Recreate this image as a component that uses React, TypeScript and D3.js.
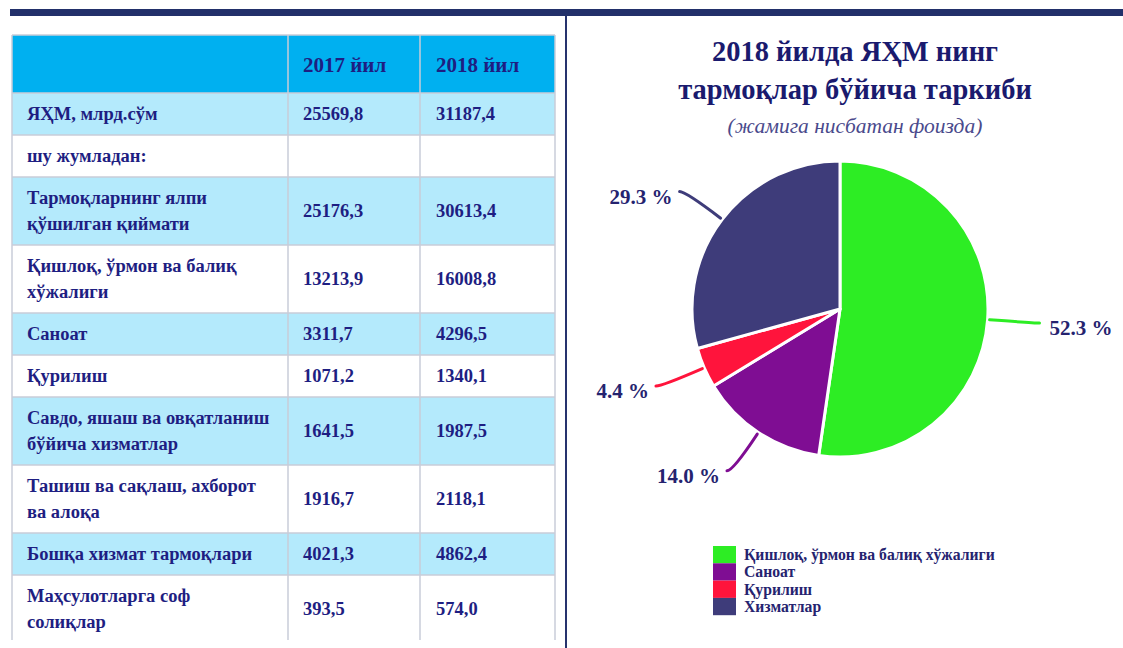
import React from "react";
import * as d3 from "d3";

const headers = ["", "2017 йил", "2018 йил"];
const rowLabels: string[][] = [
  ["ЯҲМ, млрд.сўм"],
  ["шу жумладан:"],
  ["Тармоқларнинг ялпи", "қўшилган қиймати"],
  ["Қишлоқ, ўрмон ва балиқ", "хўжалиги"],
  ["Саноат"],
  ["Қурилиш"],
  ["Савдо, яшаш ва овқатланиш", "бўйича хизматлар"],
  ["Ташиш ва сақлаш, ахборот", "ва алоқа"],
  ["Бошқа хизмат тармоқлари"],
  ["Маҳсулотларга соф", "солиқлар"],
];
const values2017: (number | null)[] = [25569.8, null, 25176.3, 13213.9, 3311.7, 1071.2, 1641.5, 1916.7, 4021.3, 393.5];
const values2018: (number | null)[] = [31187.4, null, 30613.4, 16008.8, 4296.5, 1340.1, 1987.5, 2118.1, 4862.4, 574.0];

const pieLabels = ["Қишлоқ, ўрмон ва балиқ хўжалиги", "Саноат", "Қурилиш", "Хизматлар"];
const pieValues = [52.3, 14.0, 4.4, 29.3];
const pieColors = ["#2ded24", "#7f0d93", "#ff143c", "#3e3c7a"];

const titleLines = ["2018 йилда ЯҲМ нинг", "тармоқлар бўйича таркиби"];
const subtitle = "(жамига нисбатан фоизда)";

const W = 1123;
const H = 648;
const SERIF = "'Liberation Serif', 'Times New Roman', serif";
const TEXT = "#1e1e82";

const fmt = (v: number | null) => (v == null ? "" : d3.format(".1f")(v).replace(".", ","));

export default function App() {
  // table layout
  const tx0 = 12, tx1 = 288, tx2 = 420, tx3 = 555;
  const headTop = 35, headH = 58;
  const lineH = 25.5;
  const rowH = (n: number) => (n === 1 ? 42 : 68);
  const rows: { y: number; h: number }[] = [];
  let yy = headTop + headH;
  rowLabels.forEach((l) => {
    const h = rowH(l.length);
    rows.push({ y: yy, h });
    yy += h;
  });
  const tableBottom = 640;

  // pie
  const cx = 840, cy = 309, r = 148;
  const pie = d3.pie<number>().sort(null).value((d) => d);
  const arcs = pie(pieValues);
  const arc = d3.arc<d3.PieArcDatum<number>>().innerRadius(0).outerRadius(r);

  return (
    <svg width={W} height={H} style={{ position: "absolute", left: 0, top: 0, background: "#fff" }} fontFamily={SERIF}>
      <rect x={0} y={0} width={W} height={H} fill="#fff" />
      {/* top bar */}
      <rect x={10} y={9} width={W - 10} height={7} fill="#22306a" />
      {/* separator */}
      <line x1={566} x2={566} y1={16} y2={H} stroke="#26336d" strokeWidth={2} />

      {/* table */}
      <rect x={tx0} y={headTop} width={tx3 - tx0} height={headH} fill="#00b0f0" />
      {rows.map((rw, i) => (
        <rect key={"bg" + i} x={tx0} y={rw.y} width={tx3 - tx0} height={rw.h} fill={i % 2 === 0 ? "#b4eafc" : "#ffffff"} />
      ))}
      {/* grid */}
      <g stroke="#c9ccd8" strokeWidth={1.5}>
        <line x1={tx0} x2={tx3} y1={headTop} y2={headTop} />
        {rows.map((rw, i) => (
          <line key={"hl" + i} x1={tx0} x2={tx3} y1={rw.y} y2={rw.y} />
        ))}
        {[tx0, tx1, tx2, tx3].map((x, i) => (
          <line key={"vl" + i} x1={x} x2={x} y1={headTop} y2={tableBottom} />
        ))}
      </g>
      {/* header text */}
      <g fill={TEXT} fontWeight="bold" fontSize={21}>
        <text x={303} y={headTop + headH / 2 + 7.5}>{headers[1]}</text>
        <text x={436} y={headTop + headH / 2 + 7.5}>{headers[2]}</text>
      </g>
      <g fill={TEXT} fontWeight="bold" fontSize={18.5}>
        {rowLabels.map((lines, i) => {
          const rw = rows[i];
          const mid = rw.y + rw.h / 2;
          const first = mid - ((lines.length - 1) * lineH) / 2;
          return (
            <g key={"rt" + i}>
              {lines.map((ln, j) => (
                <text key={j} x={27} y={first + j * lineH + 6}>{ln}</text>
              ))}
              <text x={303} y={mid + 6}>{fmt(values2017[i])}</text>
              <text x={436} y={mid + 6}>{fmt(values2018[i])}</text>
            </g>
          );
        })}
      </g>

      {/* title */}
      <g fill="#1a1a6e" fontWeight="bold" fontSize={28.5} textAnchor="middle">
        {titleLines.map((t, i) => (
          <text key={i} x={855} y={61 + i * 38}>{t}</text>
        ))}
      </g>
      <text x={855} y={133} textAnchor="middle" fontStyle="italic" fontSize={21.5} fill="#4a4a8c">{subtitle}</text>

      {/* pie */}
      <g transform={`translate(${cx},${cy})`}>
        {arcs.map((a, i) => (
          <path key={"s" + i} d={arc(a) || ""} fill={pieColors[i]} stroke="#fff" strokeWidth={3} strokeLinejoin="round" />
        ))}
        {arcs.map((a, i) => {
          const mid = (a.startAngle + a.endAngle) / 2;
          const sx = Math.sin(mid), sy = -Math.cos(mid);
          const p0 = [sx * (r + 2), sy * (r + 2)];
          const p1 = [sx * (r + 46), sy * (r + 46)];
          const right = sx > 0;
          const p2 = [p1[0] + (right ? 6 : -6), p1[1]];
          const lx = p2[0] + (right ? 10 : -7);
          return (
            <g key={"l" + i}>
              <path d={`M${p0[0]},${p0[1]} Q${p1[0]},${p1[1]} ${p2[0]},${p2[1]}`} fill="none" stroke={pieColors[i]} strokeWidth={3} strokeLinecap="round" />
              <text x={lx} y={p2[1] + 12} textAnchor={right ? "start" : "end"} fontWeight="bold" fontSize={21} fill="#25236f">
                {d3.format(".1f")(pieValues[i])} %
              </text>
            </g>
          );
        })}
      </g>

      {/* legend */}
      <g>
        {pieLabels.map((l, i) => (
          <g key={"lg" + i} transform={`translate(713,${546 + i * 17.3})`}>
            <rect x={0} y={0} width={23} height={17.3} fill={pieColors[i]} />
            <text x={31} y={14} fontSize={15.7} fontWeight="bold" fill="#25236f">{l}</text>
          </g>
        ))}
      </g>
    </svg>
  );
}
